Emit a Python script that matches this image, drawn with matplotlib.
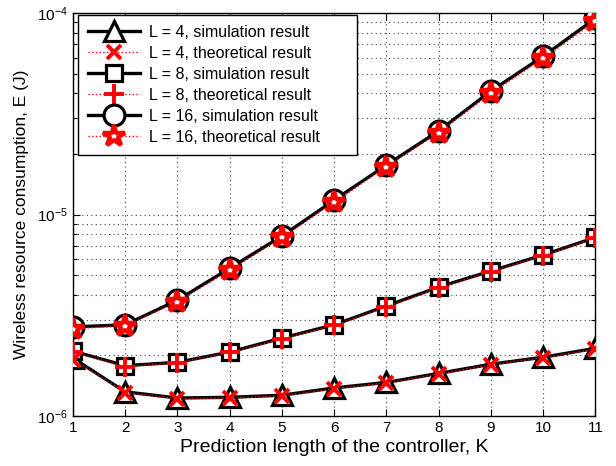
import matplotlib
matplotlib.use("Agg")
import matplotlib.pyplot as plt
from matplotlib.ticker import LogLocator, NullFormatter

plt.rcParams['font.family'] = ['Liberation Sans', 'DejaVu Sans']
plt.rcParams['mathtext.fontset'] = 'custom'
plt.rcParams['mathtext.rm'] = 'Liberation Sans'

# data
K = [1, 2, 3, 4, 5, 6, 7, 8, 9, 10, 11]

sim_L4 = [1.94e-6, 1.32e-6, 1.23e-6, 1.24e-6, 1.27e-6, 1.38e-6, 1.47e-6, 1.63e-6, 1.81e-6, 1.96e-6, 2.17e-6]
theo_L4 = [1.90e-6, 1.31e-6, 1.22e-6, 1.23e-6, 1.26e-6, 1.37e-6, 1.46e-6, 1.62e-6, 1.80e-6, 1.95e-6, 2.15e-6]

sim_L8 = [2.10e-6, 1.78e-6, 1.85e-6, 2.08e-6, 2.44e-6, 2.84e-6, 3.52e-6, 4.37e-6, 5.25e-6, 6.30e-6, 7.70e-6]
theo_L8 = [2.08e-6, 1.76e-6, 1.84e-6, 2.07e-6, 2.42e-6, 2.82e-6, 3.48e-6, 4.33e-6, 5.20e-6, 6.25e-6, 7.65e-6]

sim_L16 = [2.77e-6, 2.84e-6, 3.76e-6, 5.42e-6, 7.82e-6, 1.18e-5, 1.76e-5, 2.60e-5, 4.10e-5, 6.10e-5, 9.40e-5]
theo_L16 = [2.72e-6, 2.80e-6, 3.70e-6, 5.30e-6, 7.70e-6, 1.15e-5, 1.73e-5, 2.55e-5, 4.00e-5, 5.95e-5, 9.10e-5]

labels = [
    "L = 4, simulation result",
    "L = 4, theoretical result",
    "L = 8, simulation result",
    "L = 8, theoretical result",
    "L = 16, simulation result",
    "L = 16, theoretical result",
]

fig = plt.figure(figsize=(6.16, 4.66), dpi=100)
ax = fig.add_axes([0.1185, 0.107, 0.848, 0.865])

sim_style = dict(color="black", linewidth=2.4, markerfacecolor="white",
                 markeredgecolor="black", markeredgewidth=2.3, zorder=3)
theo_style = dict(color="red", linestyle=":", linewidth=1.0, zorder=4)

ax.plot(K, sim_L4, marker="^", markersize=15, label=labels[0], **sim_style)
ax.plot(K, theo_L4, marker="x", markersize=10, markeredgewidth=2.8,
        markeredgecolor="red", label=labels[1], **theo_style)
ax.plot(K, sim_L8, marker="s", markersize=12, label=labels[2], **sim_style)
ax.plot(K, theo_L8, marker="+", markersize=14, markeredgewidth=2.8,
        markeredgecolor="red", label=labels[3], **theo_style)
ax.plot(K, sim_L16, marker="o", markersize=15, label=labels[4], **sim_style)
ax.plot(K, theo_L16, marker="*", markersize=16, markeredgewidth=3.2,
        markeredgecolor="red", markerfacecolor="white", label=labels[5], **theo_style)

ax.set_yscale("log")
ax.set_xlim(1, 11)
ax.set_ylim(1e-6, 1e-4)
ax.set_xticks(K)
ax.yaxis.set_major_locator(LogLocator(base=10))
ax.yaxis.set_minor_locator(LogLocator(base=10, subs=range(2, 10)))
ax.yaxis.set_minor_formatter(NullFormatter())

ax.tick_params(axis="both", which="both", direction="in", top=True, right=True,
               labelsize=11)
ax.tick_params(axis="both", which="major", length=5, width=0.8)
ax.tick_params(axis="both", which="minor", length=3, width=0.8)

# MATLAB-like sparse dotted grid
ax.grid(True, which="major", axis="both", linestyle=(0, (1, 3)), color="0.25", linewidth=0.8)
ax.grid(True, which="minor", axis="y", linestyle=(0, (1, 3)), color="0.25", linewidth=0.8)

for s in ax.spines.values():
    s.set_linewidth(1.0)

ax.set_xlabel("Prediction length of the controller, K", fontsize=14, labelpad=3)
ax.set_ylabel("Wireless resource consumption, E (J)", fontsize=12.5, labelpad=6)

leg = ax.legend(loc="upper left", bbox_to_anchor=(0.0096, 0.0, 0.534, 0.995),
                mode="expand", fontsize=11.5, fancybox=False, framealpha=1,
                edgecolor="black", borderaxespad=0.0, handlelength=3.3,
                labelspacing=0.38, handletextpad=0.55, borderpad=0.6)
leg.get_frame().set_linewidth(1.0)

fig.savefig("out.png", dpi=100)
